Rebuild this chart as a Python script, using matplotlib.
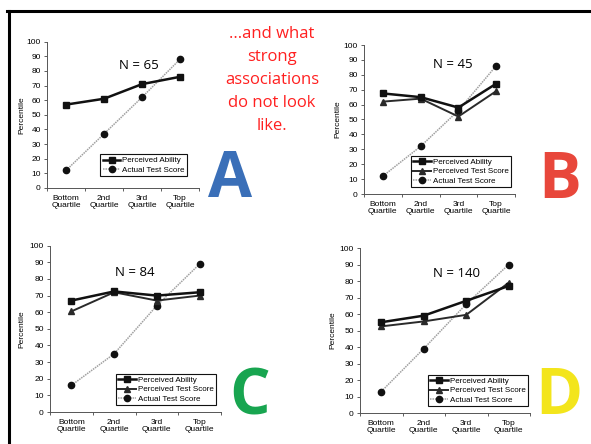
#!/usr/bin/env python3
"""
Four small line charts of perceived vs actual percentile by quartile
"""
import matplotlib
matplotlib.use('Agg')
import matplotlib.pyplot as plt
from matplotlib.lines import Line2D

W, H = 591, 444

quartiles = ['Bottom\nQuartile', '2nd\nQuartile', '3rd\nQuartile', 'Top\nQuartile']
yticks = list(range(0, 101, 10))

a_ability = [57, 61, 71, 76]
a_actual = [12, 37, 62, 88]

b_ability = [67.5, 65, 58, 74]
b_test = [62, 64, 52, 69]
b_actual = [12, 32, 56, 86]

c_ability = [67, 72.5, 70, 72]
c_test = [60.5, 72, 67, 70]
c_actual = [16, 35, 64, 89]

d_ability = [55, 59, 68, 77]
d_test = [52.5, 55.5, 59.5, 79]
d_actual = [13, 39, 66, 90]

sample_sizes = [65, 45, 84, 140]
letters = ['A', 'B', 'C', 'D']
letter_colors = ['#3a6fb8', '#e8473b', '#18a550', '#f3e51c']

headline = '...and what\nstrong\nassociations\ndo not look\nlike.'

plt.rcParams['font.family'] = ['Liberation Sans', 'DejaVu Sans']


def px_axes(fig, x0, y0, x1, y1):
  # pixel box (top-left origin) -> figure fraction axes
  return fig.add_axes([x0 / W, 1 - y1 / H, (x1 - x0) / W, (y1 - y0) / H])


def draw_panel(ax, ability, test, actual, n, n_pos, leg_anchor, ylab_x):
  xs = [0.5, 1.5, 2.5, 3.5]
  ax.plot(xs, ability, color='#111111', lw=1.8, marker='s', ms=4,
          label='Perceived Ability', zorder=4)
  if test is not None:
    ax.plot(xs, test, color='#2a2a2a', lw=1.4, marker='^', ms=4,
            label='Perceived Test Score', zorder=3)
  ax.plot(xs, actual, color='#a0a0a0', lw=1.1, ls=(0, (1, 0.6)),
          marker='o', ms=4.5, mfc='#111111', mec='#111111',
          label='Actual Test Score', zorder=2)
  ax.set_xlim(0, 4)
  ax.set_ylim(0, 100)
  ax.set_yticks(yticks)
  ax.set_xticks([0, 1, 2, 3, 4])
  ax.set_xticklabels([])
  ax.set_xticks(xs, minor=True)
  ax.set_xticklabels(quartiles, minor=True, fontsize=6, linespacing=1.0)
  ax.tick_params(axis='x', which='minor', length=0, pad=5)
  ax.tick_params(axis='both', which='major', length=2.5, width=0.6,
                 color='#444444', labelsize=6, pad=2)
  for side in ('top', 'right'):
    ax.spines[side].set_visible(False)
  for side in ('left', 'bottom'):
    ax.spines[side].set_linewidth(0.7)
    ax.spines[side].set_color('#555555')
  ax.set_ylabel('Percentile', fontsize=6)
  ax.yaxis.set_label_coords(ylab_x, 0.5)
  ax.text(n_pos[0], n_pos[1], 'N = %d' % n, fontsize=9.5,
          family='Open Sans', ha='center', va='center')
  leg = ax.legend(loc='lower right', bbox_to_anchor=leg_anchor, fontsize=5.8,
                  frameon=True, fancybox=False, framealpha=1,
                  edgecolor='#111111', handlelength=2.2, handletextpad=0.2,
                  borderpad=0.3, labelspacing=0.2, borderaxespad=0)
  leg.get_frame().set_linewidth(0.8)


fig = plt.figure(figsize=(W / 100, H / 100), dpi=100)

panels = [
  (px_axes(fig, 47, 41.7, 199, 188), a_ability, None, a_actual,
   (2.42, 84), (0.921, 0.082), -0.145),
  (px_axes(fig, 364, 45, 515, 194), b_ability, b_test, b_actual,
   (2.36, 86.6), (0.974, 0.047), -0.15),
  (px_axes(fig, 50, 245.7, 221, 412), c_ability, c_test, c_actual,
   (1.99, 83.6), (0.971, 0.042), -0.145),
  (px_axes(fig, 360, 248, 530, 413), d_ability, d_test, d_actual,
   (2.28, 84.8), (0.988, 0.042), -0.14),
]
for (ax, ab, ts, ac, npos, anchor, ylx), n in zip(panels, sample_sizes):
  draw_panel(ax, ab, ts, ac, n, npos, anchor, ylx)

# big panel letters
letter_pos = [(230, 180), (560, 181), (250, 398), (559, 398)]
for (lx, ly), letter, col in zip(letter_pos, letters, letter_colors):
  fig.text(lx / W, 1 - ly / H, letter, color=col, fontsize=46,
           family='Open Sans', weight='bold', ha='center', va='center')

fig.text(272 / W, 1 - 80 / H, headline, color='#ff2020', fontsize=12,
         family='Open Sans', ha='center', va='center', linespacing=1.6)

# slide border (top and left edges)
fig.add_artist(Line2D([7 / W, 1], [1 - 11 / H, 1 - 11 / H], color='black',
                      lw=2.2, transform=fig.transFigure))
fig.add_artist(Line2D([8.5 / W, 8.5 / W], [1 - 11 / H, 0], color='black',
                      lw=2.2, transform=fig.transFigure))

fig.savefig('out.png', dpi=100)
